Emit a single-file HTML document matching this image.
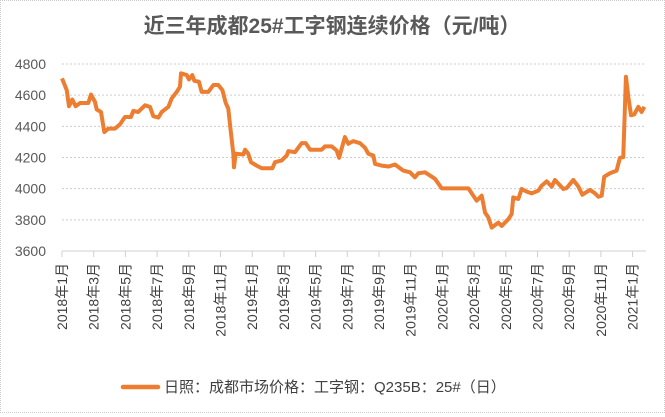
<!DOCTYPE html>
<html><head><meta charset="utf-8"><style>
body{margin:0;background:#fff;}
#c{position:relative;width:663px;height:411px;border:1px dotted #ccc;background:#fff;font-family:"Liberation Sans","Noto Sans CJK SC",sans-serif;}
</style></head><body>
<div id="c">
<svg id="svg" width="663" height="411"></svg>
</div>
<script>
const yTicks=[3600,3800,4000,4200,4400,4600,4800];
const xTickLabels=["2018年1月","2018年3月","2018年5月","2018年7月","2018年9月","2018年11月","2019年1月","2019年3月","2019年5月","2019年7月","2019年9月","2019年11月","2020年1月","2020年3月","2020年5月","2020年7月","2020年9月","2020年11月","2021年1月"];
// time in months since Jan 2018
const months=[0,0.3,0.44,0.65,0.86,1.14,1.66,1.83,2.08,2.19,2.46,2.67,2.92,3.34,3.66,3.97,4.35,4.5,4.8,5.24,5.55,5.76,6.08,6.29,6.71,6.92,7.24,7.44,7.51,7.87,8.01,8.22,8.35,8.64,8.81,9.23,9.55,9.86,10.12,10.33,10.49,10.64,10.81,10.85,10.96,11.44,11.55,11.75,11.92,12.28,12.6,13.27,13.44,13.86,14.18,14.28,14.7,15.12,15.38,15.65,16.38,16.59,17.02,17.33,17.48,17.85,18.06,18.38,18.8,19.12,19.33,19.64,19.75,20.17,20.59,21.01,21.53,21.96,22.27,22.48,22.9,23.22,23.53,23.96,25.64,25.95,26.16,26.48,26.69,26.9,27.11,27.53,27.74,28.16,28.37,28.47,28.79,29.0,29.32,29.63,30.05,30.26,30.58,30.9,31.1,31.63,31.84,32.26,32.58,32.83,33.31,33.63,33.84,34.05,34.21,34.57,34.99,35.2,35.41,35.58,35.73,35.9,36.11,36.36,36.57,36.74];
const prices=[4708,4632,4529,4572,4529,4550,4550,4604,4557,4508,4492,4363,4385,4385,4413,4460,4460,4499,4492,4535,4525,4465,4456,4492,4525,4579,4621,4654,4740,4729,4701,4729,4692,4686,4621,4621,4665,4665,4632,4550,4514,4374,4224,4137,4224,4219,4250,4224,4170,4148,4131,4131,4170,4181,4213,4241,4234,4292,4292,4250,4250,4271,4271,4245,4198,4331,4288,4305,4292,4262,4224,4213,4159,4148,4142,4155,4116,4105,4073,4099,4105,4084,4063,4002,4002,3955,3923,3955,3847,3815,3750,3782,3761,3804,3837,3944,3934,3998,3981,3970,3987,4019,4047,4013,4056,3998,4004,4056,4013,3961,3992,3970,3948,3955,4077,4099,4116,4198,4202,4718,4589,4471,4477,4525,4492,4525];
const NS="http://www.w3.org/2000/svg";
const svg=document.getElementById('svg');
const X0=61,PX=15.85,Y0=250,YTOP=63;
function xS(m){return X0+m*PX;}
function yS(v){return Y0-(v-3600)/1200*(Y0-YTOP);}
function mk(t,a){const e=document.createElementNS(NS,t);for(const k in a)e.setAttribute(k,a[k]);svg.appendChild(e);return e;}
let t=mk('text',{x:331,y:32,'text-anchor':'middle','font-size':'21','font-weight':'bold',fill:'#595959'});


t.textContent='近三年成都25#工字钢连续价格（元/吨）';
yTicks.forEach(v=>{
 if(v>3600){const g=mk('line',{x1:X0,x2:645,y1:yS(v),y2:yS(v),stroke:'#ccc','stroke-dasharray':'2,2'});
 
 }
 const l=mk('text',{x:45,y:yS(v)+5,'text-anchor':'end','font-size':'14',fill:'#595959'});
 
 
 l.textContent=v;
});
const ax=mk('line',{x1:X0,x2:645,y1:Y0,y2:Y0,stroke:'#d0d0d0','stroke-width':1});


xTickLabels.forEach((s,i)=>{
 const x=xS(i*2);
 const tk=mk('line',{x1:x,x2:x,y1:Y0,y2:Y0+6,stroke:'#d0d0d0'});
 
 
 const l=mk('text',{x:0,y:0,'text-anchor':'end','font-size':'14',fill:'#404040',transform:`translate(${x+5},${Y0+12}) rotate(-90)`});
 
 
 l.textContent=s;
});
const p=mk('polyline',{points:months.map((m,i)=>xS(m)+','+yS(prices[i])).join(' '),fill:'none',stroke:'#ED7D31','stroke-width':4,'stroke-linejoin':'round'});


const ll=mk('line',{x1:122,x2:157,y1:386,y2:386,stroke:'#ED7D31','stroke-width':4.5,'stroke-linecap':'round'});


const lt=mk('text',{x:163,y:391,'font-size':'15',fill:'#404040'});


lt.textContent='日照：成都市场价格：工字钢：Q235B：25#（日）';
</script>
</body></html>
